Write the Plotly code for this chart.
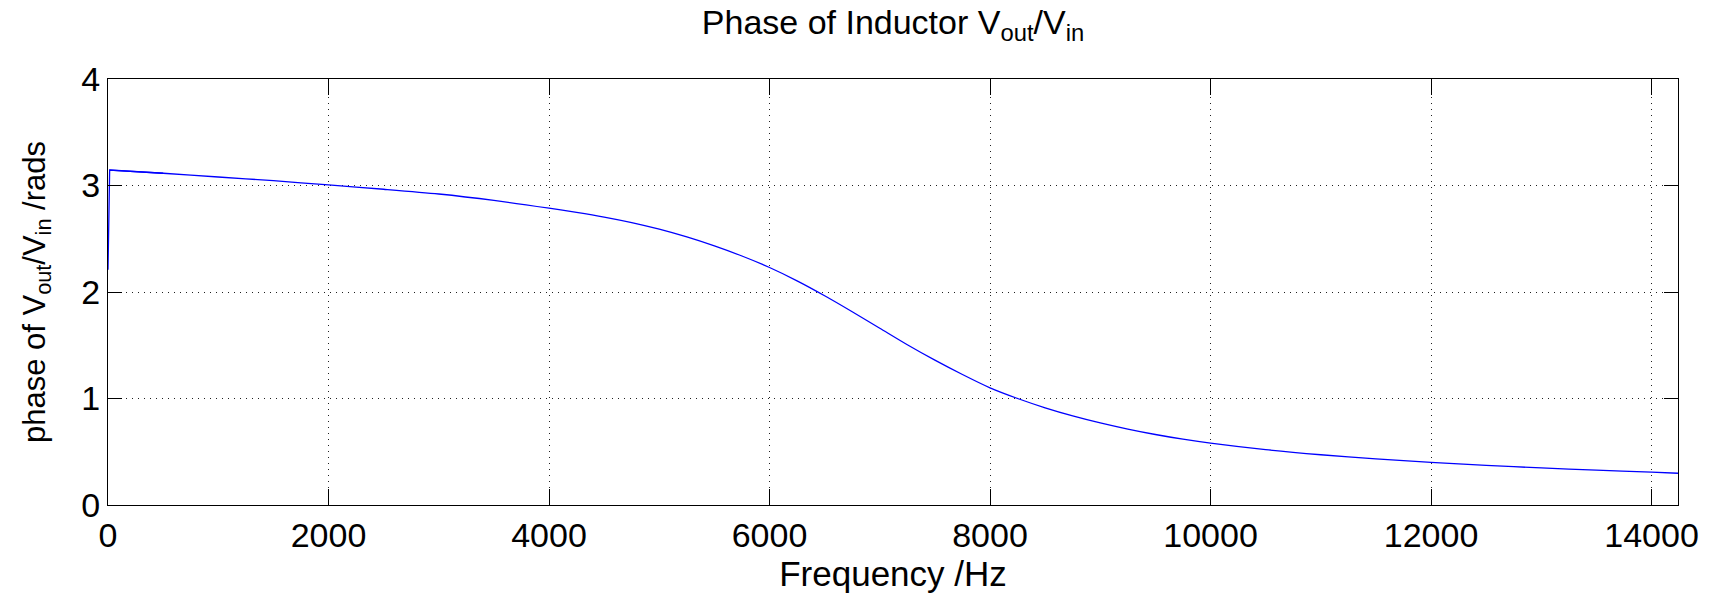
import plotly.graph_objects as go

# Phase response of the inductor output, sampled across the band
freq_hz = [0, 15, 500, 1000, 1500, 2000, 2500, 3000, 3500, 4000, 4250, 4500,
           4750, 5000, 5250, 5500, 5750, 6000, 6250, 6500, 6750, 7000, 7250,
           7500, 7750, 8000, 8250, 8500, 8750, 9000, 9250, 9500, 9750, 10000,
           10500, 11000, 11500, 12000, 12500, 13000, 13500, 14000, 14240]
phase_rad = [2.21, 3.145, 3.115, 3.08, 3.045, 3.005, 2.965, 2.92, 2.86, 2.787,
             2.748, 2.704, 2.652, 2.59, 2.517, 2.433, 2.338, 2.23, 2.105, 1.965,
             1.815, 1.66, 1.505, 1.36, 1.225, 1.10, 1.0, 0.913, 0.837, 0.771,
             0.713, 0.662, 0.618, 0.581, 0.52, 0.472, 0.433, 0.40, 0.372, 0.348,
             0.327, 0.308, 0.298]

x_ticks = [0, 2000, 4000, 6000, 8000, 10000, 12000, 14000]
y_ticks = [0, 1, 2, 3, 4]

FONT = "Liberation Sans, Arial, Helvetica, sans-serif"
LINE = dict(color="#0000ff", width=1.3)

fig = go.Figure()
# first sample (DC) jumps straight up to the first nonzero frequency
fig.add_trace(go.Scatter(
    x=freq_hz[:3], y=phase_rad[:3], mode="lines",
    line=LINE, hoverinfo="x+y", showlegend=False,
))
# remaining samples drawn as a smooth curve
fig.add_trace(go.Scatter(
    x=freq_hz[1:], y=phase_rad[1:], mode="lines",
    line=dict(LINE, shape="spline", smoothing=0.8),
    hoverinfo="x+y", showlegend=False,
))

axis_common = dict(
    showline=True, linecolor="black", linewidth=1, mirror="ticks",
    ticks="inside", tickcolor="black", tickwidth=1,
    showgrid=True, gridcolor="#202020", gridwidth=1, griddash="1px,5px",
    zeroline=False,
    tickfont=dict(family=FONT, size=34, color="black"),
)

fig.update_xaxes(
    range=[0, 14240], tickvals=x_ticks, ticktext=[str(v) for v in x_ticks],
    ticklen=16,
    title=dict(text="Frequency /Hz", font=dict(family=FONT, size=35, color="black"),
               standoff=4),
    **axis_common,
)
fig.update_yaxes(
    range=[0, 4], tickvals=y_ticks, ticktext=[str(v) for v in y_ticks],
    ticklen=14,
    title=dict(text="phase of V<sub>out</sub>/V<sub>in</sub> /rads",
               font=dict(family=FONT, size=31, color="black"), standoff=26),
    **axis_common,
)

fig.update_layout(
    width=1721, height=601,
    margin=dict(l=108, r=43, t=79, b=96),
    paper_bgcolor="white", plot_bgcolor="white",
    title=dict(text="Phase of Inductor V<sub>out</sub>/V<sub>in</sub>",
               font=dict(family=FONT, size=34, color="black"),
               x=0.5, xanchor="center", xref="paper", y=0.963, yanchor="middle"),
)

fig.write_html("out.html")
